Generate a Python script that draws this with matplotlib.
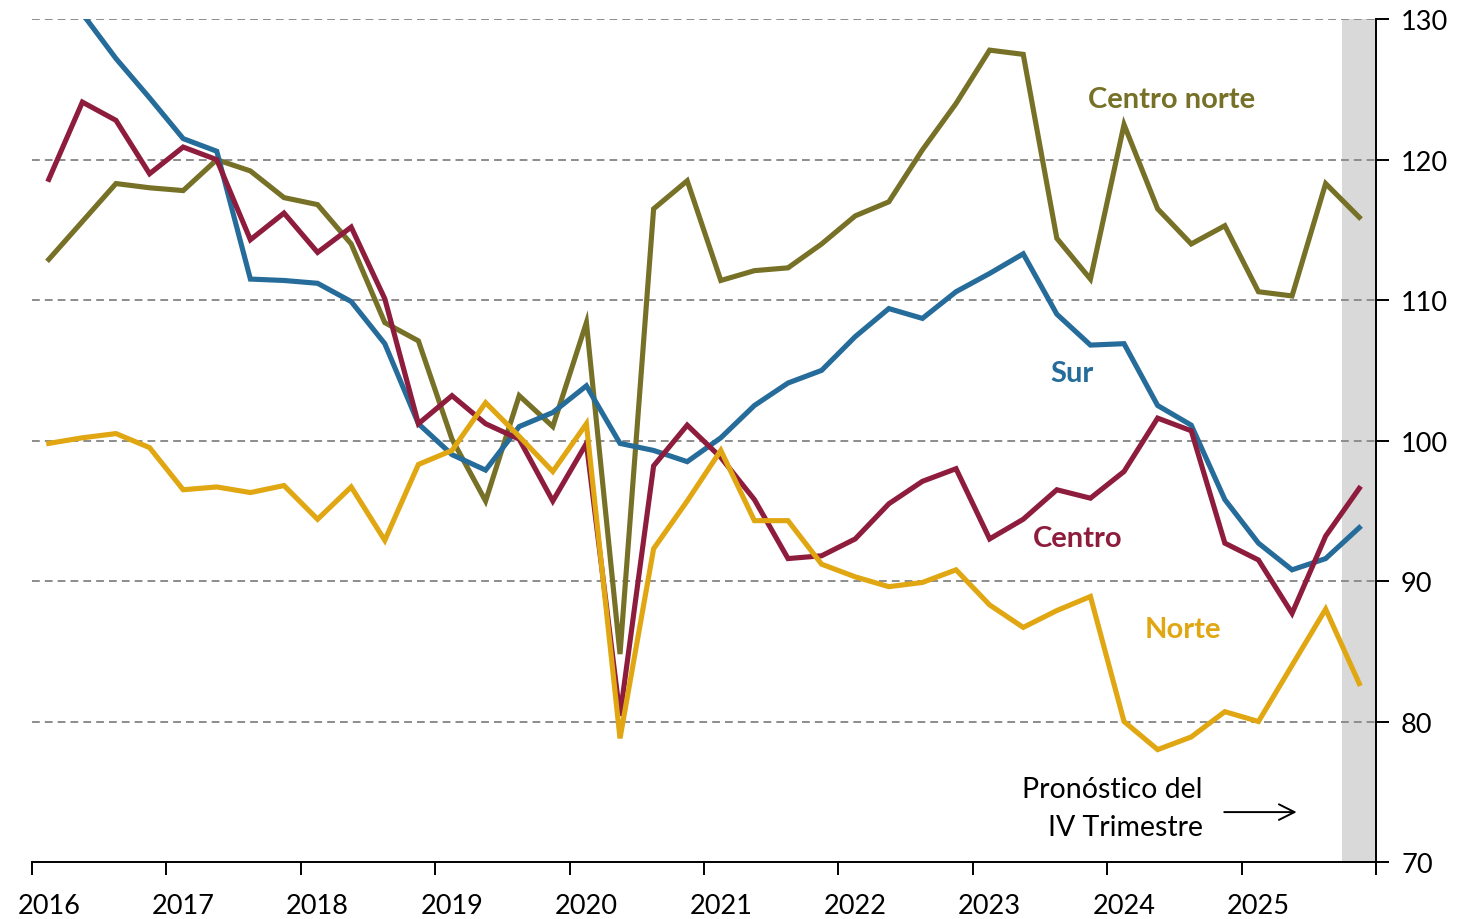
import numpy as np
import matplotlib
matplotlib.use("Agg")
import matplotlib.pyplot as plt
from matplotlib.ticker import FixedLocator, NullFormatter, FixedFormatter

plt.rcParams['font.family'] = ['Lato', 'DejaVu Sans']

# Quarterly data 2016Q1 .. 2025Q4
quarters = [2016 + (i + 0.5) / 4 for i in range(40)]

centro_norte = [112.9, 115.6, 118.3, 118.0, 117.8, 120.0, 119.2, 117.3, 116.8, 114.0,
                108.4, 107.1, 100.1, 95.7, 103.2, 101.0, 108.4, 84.8, 116.5, 118.5,
                111.4, 112.1, 112.3, 114.0, 116.0, 117.0, 120.7, 124.0, 127.8, 127.5,
                114.4, 111.5, 122.5, 116.5, 114.0, 115.3, 110.6, 110.3, 118.3, 115.9]

sur = [131.8, 130.4, 127.2, 124.4, 121.5, 120.6, 111.5, 111.4, 111.2, 109.9,
       106.9, 101.2, 99.0, 97.9, 101.0, 102.0, 103.9, 99.8, 99.3, 98.5,
       100.2, 102.5, 104.1, 105.0, 107.4, 109.4, 108.7, 110.6, 111.9, 113.3,
       109.0, 106.8, 106.9, 102.5, 101.1, 95.8, 92.7, 90.8, 91.6, 93.8]

centro = [118.6, 124.1, 122.8, 119.0, 120.9, 120.0, 114.3, 116.2, 113.4, 115.2,
          110.1, 101.2, 103.2, 101.2, 100.1, 95.7, 99.8, 80.4, 98.2, 101.1,
          98.8, 95.8, 91.6, 91.8, 93.0, 95.5, 97.1, 98.0, 93.0, 94.4,
          96.5, 95.9, 97.8, 101.6, 100.7, 92.7, 91.5, 87.7, 93.2, 96.6]

norte = [99.8, 100.2, 100.5, 99.5, 96.5, 96.7, 96.3, 96.8, 94.4, 96.7,
         92.9, 98.3, 99.3, 102.7, 100.3, 97.8, 101.2, 78.8, 92.3, 95.7,
         99.3, 94.3, 94.3, 91.2, 90.3, 89.6, 89.9, 90.8, 88.3, 86.7,
         87.9, 88.9, 80.0, 78.0, 78.9, 80.7, 80.0, 84.0, 88.0, 82.7]

year_ticks = list(range(2016, 2027))
year_labels = [str(y) for y in range(2016, 2026)]
y_ticks = [70, 80, 90, 100, 110, 120, 130]

series = [
    ("Centro norte", centro_norte, "#767126", (2024.48, 124.3)),
    ("Sur", sur, "#266C9A", (2023.74, 104.8)),
    ("Centro", centro, "#8E1C3D", (2023.78, 93.05)),
    ("Norte", norte, "#E0A712", (2024.56, 86.6)),
]

fig = plt.figure(figsize=(14.6, 9.2), dpi=100)
ax = fig.add_axes([0.0219, 0.062, 0.9206, 0.916])

ax.set_xlim(2016, 2026)
ax.set_ylim(70, 130)

# forecast shading
ax.axvspan(2025.75, 2026, color="#d9d9d9", zorder=0, lw=0)

for yv in y_ticks[1:]:
    ax.axhline(yv, color="#8c8c8c", lw=1.4, ls=(0, (4.0, 2.6)), zorder=1)

for name, vals, col, pos in series:
    ax.plot(quarters, vals, color=col, lw=3.7, solid_joinstyle='miter', zorder=3)
    ax.text(pos[0], pos[1], name, color=col, fontsize=21, fontweight='bold',
            ha='center', va='center', zorder=4)

ax.text(2024.71, 73.85, "Pronóstico del\nIV Trimestre", ha='right', va='center',
        fontsize=20.5, linespacing=1.55, color='black')
ax.annotate("", xy=(2025.43, 73.55), xytext=(2024.85, 73.55),
            arrowprops=dict(arrowstyle='->', lw=1.4, color='black', mutation_scale=28))

# axes styling
for s in ['left', 'top']:
    ax.spines[s].set_visible(False)
ax.spines['right'].set_linewidth(1.4)
ax.spines['bottom'].set_linewidth(1.4)

ax.yaxis.tick_right()
ax.set_yticks(y_ticks)
ax.set_yticklabels([str(v) for v in y_ticks], fontsize=19.5)
ax.tick_params(axis='y', direction='out', length=9, width=1.4, pad=9)

ax.xaxis.set_major_locator(FixedLocator(year_ticks))
ax.xaxis.set_major_formatter(NullFormatter())
ax.xaxis.set_minor_locator(FixedLocator([y + 0.125 for y in range(2016, 2026)]))
ax.xaxis.set_minor_formatter(FixedFormatter(year_labels))
ax.tick_params(axis='x', which='major', direction='out', length=9, width=1.4)
ax.tick_params(axis='x', which='minor', length=0, labelsize=19.5, pad=22)

fig.savefig("out.png", dpi=100)
